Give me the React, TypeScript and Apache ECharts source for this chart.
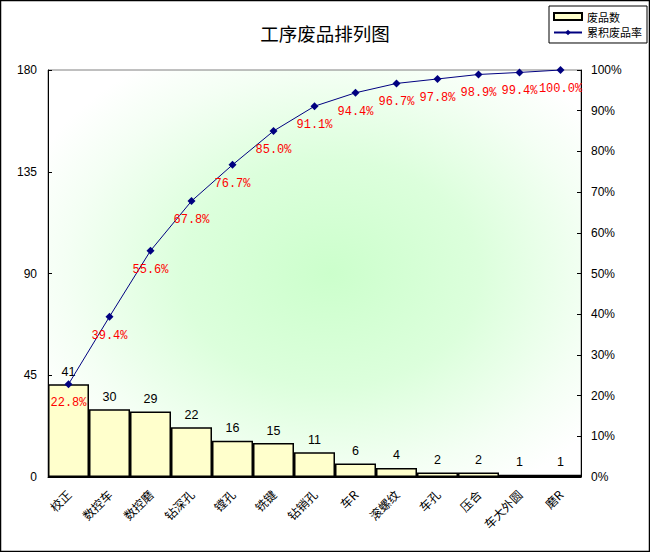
import React, { useEffect, useRef } from "react";
import * as echarts from "echarts";

const categories = ["校正", "数控车", "数控磨", "钻深孔", "镗孔", "铣键", "钻销孔", "车R", "滚螺纹", "车孔", "压合", "车大外圆", "磨R"];
const defects = [41, 30, 29, 22, 16, 15, 11, 6, 4, 2, 2, 1, 1];
const cumPercent = [22.8, 39.4, 55.6, 67.8, 76.7, 85.0, 91.1, 94.4, 96.7, 97.8, 98.9, 99.4, 100.0];
const leftTicks = { min: 0, max: 180, interval: 45 };
const rightTicks = { min: 0, max: 100, interval: 10 };

export default function App() {
  const ref = useRef<HTMLDivElement>(null);
  useEffect(() => {
    document.body.style.margin = "0";
    const chart = echarts.init(ref.current!, undefined, { renderer: "svg" });
    const cjk = "'Noto Sans CJK SC', sans-serif";
    const latin = "'Liberation Sans', Arial, sans-serif";
    chart.setOption({
      animation: false,
      backgroundColor: "#fff",
      title: {
        text: "工序废品排列图",
        left: "center",
        top: 19,
        textStyle: { fontFamily: cjk, fontSize: 18.5, fontWeight: "normal", color: "#000" },
      },
      legend: {
        orient: "vertical",
        right: 3,
        top: 6,
        borderColor: "#000",
        borderWidth: 1,
        backgroundColor: "#fff",
        padding: [5, 5, 5, 4],
        itemGap: 5,
        itemWidth: 28,
        itemHeight: 7,
        textStyle: { fontFamily: cjk, fontSize: 11, color: "#000" },
        data: [
          { name: "废品数", icon: "rect" },
          { name: "累积废品率" },
        ],
      },
      grid: {
        left: 48,
        right: 69,
        top: 70,
        bottom: 75,
        show: true,
        borderColor: "#808080",
        borderWidth: 1,
        backgroundColor: {
          type: "radial",
          x: 0.53,
          y: 0.5,
          r: 0.62,
          colorStops: [
            { offset: 0, color: "#ccffcc" },
            { offset: 0.45, color: "#dcffdc" },
            { offset: 0.8, color: "#f4fff4" },
            { offset: 1, color: "#ffffff" },
          ],
        },
      },
      xAxis: {
        type: "category",
        data: categories,
        axisLine: { lineStyle: { color: "#000", width: 1 } },
        axisTick: { show: false },
        axisLabel: {
          interval: 0,
          rotate: 45,
          margin: 15,
          fontFamily: cjk,
          fontSize: 12,
          color: "#000",
        },
      },
      yAxis: [
        {
          type: "value",
          min: leftTicks.min,
          max: leftTicks.max,
          interval: leftTicks.interval,
          splitLine: { show: false },
          axisLine: { show: true, lineStyle: { color: "#000" } },
          axisTick: { show: true, inside: true, length: 4, lineStyle: { color: "#000" } },
          axisLabel: { margin: 11, fontFamily: latin, fontSize: 12, color: "#000" },
        },
        {
          type: "value",
          min: rightTicks.min,
          max: rightTicks.max,
          interval: rightTicks.interval,
          splitLine: { show: false },
          axisLine: { show: true, lineStyle: { color: "#000" } },
          axisTick: { show: true, inside: true, length: 4, lineStyle: { color: "#000" } },
          axisLabel: {
            margin: 10,
            formatter: "{value}%",
            fontFamily: latin,
            fontSize: 12,
            color: "#000",
          },
        },
      ],
      series: [
        {
          name: "废品数",
          type: "bar",
          data: defects,
          barCategoryGap: "0%",
          itemStyle: { color: "#FFFFCC", borderColor: "#000", borderWidth: 1.5 },
          label: {
            show: true,
            position: "top",
            distance: 6,
            fontFamily: latin,
            fontSize: 12.5,
            color: "#000",
          },
        },
        {
          name: "累积废品率",
          type: "line",
          yAxisIndex: 1,
          data: cumPercent,
          symbol: "diamond",
          symbolSize: 8,
          lineStyle: { color: "#000080", width: 1 },
          itemStyle: { color: "#000080" },
          label: {
            show: true,
            position: "bottom",
            distance: 9,
            formatter: (p: any) => p.value.toFixed(1) + "%",
            fontFamily: "'Liberation Mono', 'DejaVu Sans Mono', monospace",
            fontSize: 12,
            color: "#ff0000",
          },
          z: 5,
        },
      ],
      graphic: [
        {
          type: "rect",
          shape: { x: 0.5, y: 0.5, width: 649, height: 551 },
          style: { fill: "none", stroke: "#000", lineWidth: 1.5 },
          silent: true,
          z: 100,
        },
      ],
    });
    return () => chart.dispose();
  }, []);
  return <div ref={ref} style={{ position: "absolute", left: 0, top: 0, width: 650, height: 552 }} />;
}
